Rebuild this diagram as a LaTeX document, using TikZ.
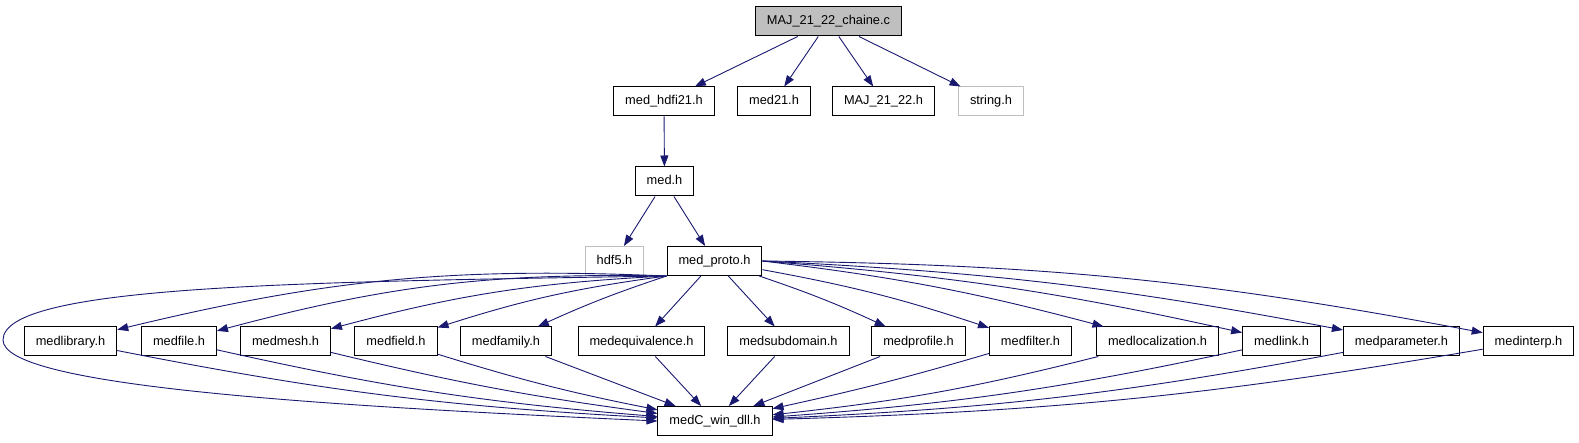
\documentclass[tikz,border=0pt]{standalone}
\usepackage{fontspec}
\setmainfont{Liberation Sans}
\usepackage{tikz}
\usetikzlibrary{arrows.meta}
\definecolor{edgeblue}{HTML}{191970}
\definecolor{extgray}{HTML}{BFBFBF}

\begin{document}
\begin{tikzpicture}[x=1pt,y=-1pt,>={Triangle[length=11pt,width=8pt]},
  hdr/.style={draw,line width=1pt,minimum height=29pt,inner xsep=11.5pt,inner ysep=0pt,
    text height=9.5pt,text depth=2.5pt,font=\fontsize{12.8}{15}\selectfont},
  hdrext/.style={hdr,draw=extgray},
  hdrroot/.style={hdr,fill=extgray},
  every edge/.append style={edgeblue,line width=0.9pt}]
  \useasboundingbox (0,0) rectangle (1579,443);

  \node[hdrroot] (chaine) at (828.5,21.5) {MAJ\_21\_22\_chaine.c};
  \node[hdr]    (hdfi)   at (664,101.5)   {med\_hdfi21.h};
  \node[hdr]    (med21)  at (774,101.5)   {med21.h};
  \node[hdr]    (maj)    at (883.5,101.5) {MAJ\_21\_22.h};
  \node[hdrext] (str)    at (991,101.5)   {string.h};
  \node[hdr]    (med)    at (664.5,181.5) {med.h};
  \node[hdrext] (hdf)    at (614.5,261)   {hdf5.h};
  \node[hdr]    (proto)  at (714.5,261)   {med\_proto.h};

  \node[hdr] (lib)    at (70.5,341.5)   {medlibrary.h};
  \node[hdr] (file)   at (179,341.5)    {medfile.h};
  \node[hdr] (mesh)   at (285.5,341.5)  {medmesh.h};
  \node[hdr] (field)  at (396,341.5)    {medfield.h};
  \node[hdr] (fam)    at (506,341.5)    {medfamily.h};
  \node[hdr] (equiv)  at (641.5,341.5)  {medequivalence.h};
  \node[hdr] (subd)   at (788.5,341.5)  {medsubdomain.h};
  \node[hdr] (prof)   at (918.5,341.5)  {medprofile.h};
  \node[hdr] (filt)   at (1030.5,341.5) {medfilter.h};
  \node[hdr] (loc)    at (1157.5,341.5) {medlocalization.h};
  \node[hdr] (link)   at (1281.5,341.5) {medlink.h};
  \node[hdr] (param)  at (1401.5,341.5) {medparameter.h};
  \node[hdr] (interp) at (1528.5,341.5) {medinterp.h};

  \node[hdr] (dll) at (715,421) {medC\_win\_dll.h};

  \path[->] (chaine) edge (hdfi) edge (med21) edge (maj) edge (str)
        (hdfi) edge (med)
        (med) edge (hdf) edge (proto)
        (proto.south west) edge [bend right=8] (lib)
                           edge [bend right=8] (file)
                           edge [bend right=6] (mesh)
                           edge [bend right=5] (field)
                           edge [bend right=3] (fam)
        (proto) edge (equiv) edge (subd)
                edge [bend left=3] (prof)
                edge [bend left=4] (filt)
        (proto.east) edge [bend left=4] (loc)
                     edge [bend left=4] (link)
                     edge [bend left=4] (param)
                     edge [bend left=5] (interp);

  \path[->] (lib) edge [bend right=4] (dll)
        (file) edge [bend right=4] (dll)
        (mesh) edge [bend right=3] (dll)
        (field) edge [bend right=3] (dll)
        (fam) edge (dll)
        (equiv) edge (dll)
        (subd) edge (dll)
        (prof) edge (dll)
        (filt) edge [bend left=2] (dll)
        (loc) edge [bend left=4] (dll)
        (link) edge [bend left=4] (dll)
        (param) edge [bend left=4] (dll)
        (interp) edge [bend left=4] (dll);

  % long way round on the left
  \draw[->,edgeblue,line width=0.9pt] (proto.south west)
    .. controls (300,282) and (3,285) .. (3,340)
    .. controls (3,385) and (300,405) .. (dll.west);
\end{tikzpicture}
\end{document}
